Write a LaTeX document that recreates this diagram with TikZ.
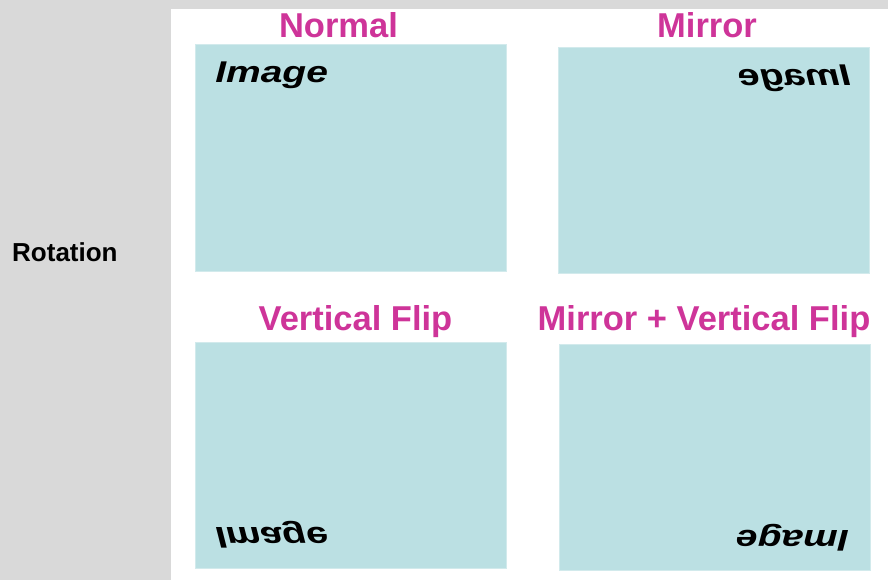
\documentclass[tikz,border=0pt]{standalone}
\usepackage{fontspec}
\setmainfont{Liberation Sans}
\definecolor{sidegray}{RGB}{217,217,217}
\definecolor{panelfill}{RGB}{187,224,227}
\definecolor{panelline}{RGB}{210,234,236}
\definecolor{capmagenta}{RGB}{206,52,153}
\tikzset{
    panel/.style={draw=panelline, fill=panelfill, anchor=north west, inner sep=0pt,
        minimum width=311pt, minimum height=227pt},
    caption/.style={anchor=base, inner sep=0pt, text=capmagenta,
        font=\fontsize{34.5}{40}\selectfont\bfseries},
    word/.style={anchor=base west, inner sep=0pt,
        font=\fontsize{30}{34}\selectfont\bfseries\itshape}
}
\begin{document}
\begin{tikzpicture}[x=1pt, y=-1pt]
                \fill[sidegray] (0,0) rectangle (888,580);
                \fill[white] (171,9) rectangle (888,580);
                \node[anchor=base west, inner sep=0pt, font=\fontsize{26}{30}\selectfont\bfseries]
                    (rotation) at (12,261) {Rotation};
                % the four panels
                \node[panel] (normal) at (195,44) {};
                \node[panel, minimum height=226pt] (mirror) at (558,47) {};
                \node[panel, minimum height=226pt] (vflip) at (195,342) {};
                \node[panel, minimum height=226pt] (both) at (559,344) {};
                \node[caption] (normalcap) at (338.5,37.5) {Normal};
                \node[caption] (mirrorcap) at (707,37.5) {Mirror};
                \node[caption] (vflipcap) at (355.5,330) {Vertical Flip};
                \node[caption] (bothcap) at (704,330.5) {Mirror + Vertical Flip};
                % the word, turned four ways
                \node[word, xscale=1.3] (normalword) at (215,83) {Image};
                \node[word, xscale=-1.3] (mirrorword) at (851,86) {Image};
                \node[word, xscale=1.3, yscale=-1] (vflipword) at (215,527) {Image};
                \node[word, xscale=-1.3, yscale=-1] (bothword) at (849,530) {Image};
            \end{tikzpicture}
\end{document}
